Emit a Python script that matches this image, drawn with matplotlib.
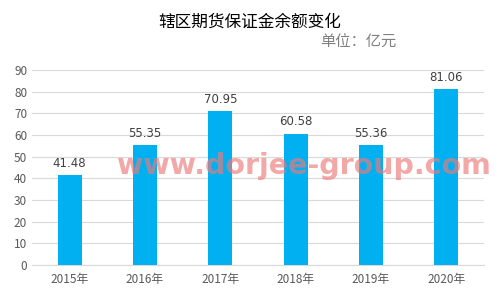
import matplotlib
matplotlib.use('Agg')
import matplotlib.pyplot as plt

plt.rcParams['font.family'] = ['Noto Sans CJK SC', 'DejaVu Sans']

years = ['2015年', '2016年', '2017年', '2018年', '2019年', '2020年']
margin = [41.48, 55.35, 70.95, 60.58, 55.36, 81.06]

fig = plt.figure(figsize=(5, 3), dpi=100)
ax = fig.add_axes([0.064, 0.117, 0.904, 0.65])

x = range(len(years))
bars = ax.bar(x, margin, width=0.32, color='#00B0F0', zorder=3)
for xi, v in zip(x, margin):
    ax.text(xi, v + 2.5, f'{v:.2f}', ha='center', va='bottom',
            fontsize=8.5, color='#404040', family='DejaVu Sans')

ax.set_xlim(-0.5, len(years) - 0.5)
ax.set_ylim(0, 90)
ax.set_yticks(range(0, 91, 10))
ax.set_xticks(list(x))
ax.set_xticklabels(years)
ax.tick_params(axis='both', length=0, labelsize=8.5, colors='#595959')
ax.tick_params(axis='x', pad=6)
ax.grid(axis='y', color='#D9D9D9', linewidth=0.8, zorder=0)
for s in ['top', 'right', 'left']:
    ax.spines[s].set_visible(False)
ax.spines['bottom'].set_color('#D9D9D9')

fig.text(0.5, 0.925, '辖区期货保证金余额变化', ha='center', va='center',
         fontsize=12, color='#000000')
fig.text(0.64, 0.858, '单位：亿元', ha='left', va='center',
         fontsize=11, color='#808080')

# watermark
fig.text(0.607, 0.447, 'www.dorjee-group.com', ha='center', va='center',
         fontsize=20.5, fontweight='bold', color='#EE7A7A', alpha=0.65,
         family='DejaVu Sans', zorder=10)

fig.savefig('out.png', dpi=100)
